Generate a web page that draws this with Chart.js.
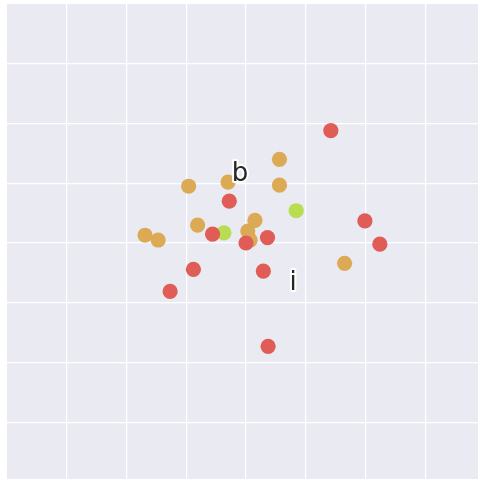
<!DOCTYPE html>
<html>
<head>
<meta charset="utf-8">
<script src="https://cdn.jsdelivr.net/npm/chart.js@4.4.0/dist/chart.umd.min.js"></script>
<style>
  body { margin: 0; background: #fff; }
  #wrap { width: 478px; height: 479px; overflow: hidden; position: relative; }
  #mycanvas { display: block; }
</style>
</head>
<body>
<div id="wrap"><canvas id="mycanvas" width="485" height="482"></canvas></div>
<script>
// values (axis runs 0..8 both ways)
var redX = [5.42, 3.72, 3.44, 4.00, 4.36, 3.12, 4.29, 2.73, 4.37, 5.99, 6.24];
var redY = [5.88, 4.70, 4.15, 4.00, 4.09, 3.56, 3.53, 3.19, 2.27, 4.37, 3.98];

var orangeX = [4.56, 3.04, 3.70, 4.56, 3.19, 4.15, 4.03, 4.07, 2.31, 2.53, 5.65];
var orangeY = [5.40, 4.95, 5.02, 4.97, 4.30, 4.38, 4.20, 4.05, 4.13, 4.05, 3.66];

var greenX = [4.84, 3.63];
var greenY = [4.54, 4.17];

var labelText = ['b', 'i'];
var labelX = [3.90, 4.79];
var labelY = [5.04, 3.21];

function pts(xs, ys) {
  var out = [];
  for (var i in xs) out.push({x: xs[i], y: ys[i]});
  return out;
}

// grey panel behind the plot
var bgPlugin = {
  id: 'bg',
  beforeDraw: function(chart) {
    var a = chart.chartArea, c = chart.ctx;
    c.save();
    c.fillStyle = '#EAEAF2';
    c.fillRect(a.left, a.top, a.right - a.left, a.bottom - a.top);
    c.restore();
  }
};

// the two text labels, dark with a white outline
var textPlugin = {
  id: 'texts',
  afterDatasetsDraw: function(chart) {
    var c = chart.ctx, sx = chart.scales.x, sy = chart.scales.y;
    c.save();
    c.font = '26px "DejaVu Sans"';
    c.textAlign = 'center';
    c.textBaseline = 'alphabetic';
    c.lineJoin = 'round';
    for (var i in labelText) {
      var px = sx.getPixelForValue(labelX[i]);
      var py = sy.getPixelForValue(labelY[i]);
      c.strokeStyle = '#ffffff';
      c.lineWidth = 4;
      c.strokeText(labelText[i], px, py);
      c.fillStyle = '#262626';
      c.fillText(labelText[i], px, py);
    }
    c.restore();
  }
};

function gridColor(ctx) {
  var v = ctx.tick ? ctx.tick.value : null;
  return (v === 0 || v === 8) ? 'rgba(0,0,0,0)' : '#ffffff';
}

var ctx = document.getElementById('mycanvas');
var chart = new Chart(ctx, {
  type: 'scatter',
  data: {
    datasets: [
      { label: 'red', data: pts(redX, redY), backgroundColor: '#DF5D56', borderWidth: 0, pointRadius: 7.6, order: 1 },
      { label: 'orange', data: pts(orangeX, orangeY), backgroundColor: '#DCAA54', borderWidth: 0, pointRadius: 7.6, order: 2 },
      { label: 'green', data: pts(greenX, greenY), backgroundColor: '#B9DC52', borderWidth: 0, pointRadius: 7.6, order: 3 }
    ]
  },
  options: {
    responsive: false,
    animation: false,
    layout: { autoPadding: false, padding: { left: 7, top: 4, right: 0, bottom: 0 } },
    plugins: { legend: { display: false }, tooltip: { enabled: false } },
    scales: {
      x: {
        min: 0, max: 8,
        ticks: { display: false, stepSize: 1 },
        grid: { color: gridColor, lineWidth: 1.2, drawTicks: false },
        border: { display: false }
      },
      y: {
        min: 0, max: 8,
        ticks: { display: false, stepSize: 1 },
        grid: { color: gridColor, lineWidth: 1.2, drawTicks: false },
        border: { display: false }
      }
    }
  },
  plugins: [bgPlugin, textPlugin]
});
</script>
</body>
</html>
